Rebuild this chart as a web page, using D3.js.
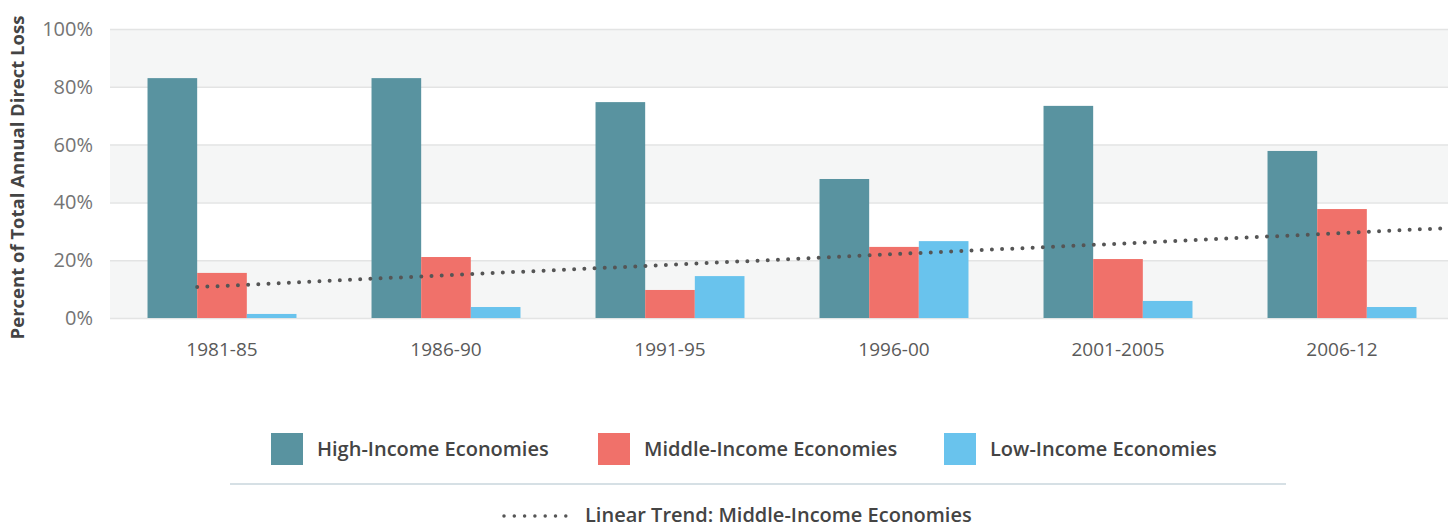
<!DOCTYPE html>
<html>
<head>
<meta charset="utf-8">
<script src="https://cdn.jsdelivr.net/npm/d3@7"></script>
<style>
  body { margin: 0; background: #fff; }
  text { font-family: "Open Sans", Lato, sans-serif; }
</style>
</head>
<body>
<div id="chart"></div>
<script>
// DATA
const periods = ["1981-85", "1986-90", "1991-95", "1996-00", "2001-2005", "2006-12"];
const highIncome = [83.0, 83.0, 74.7, 48.1, 73.4, 57.8];
const middleIncome = [15.6, 21.1, 9.7, 24.6, 20.4, 37.7];
const lowIncome = [1.4, 3.8, 14.5, 26.6, 5.9, 3.8];
// trend line at each period centre
const middleTrend = [11.1, 14.8, 18.4, 22.1, 25.7, 29.4];
const yTicks = [0, 20, 40, 60, 80, 100];
const seriesNames = ["High-Income Economies", "Middle-Income Economies", "Low-Income Economies"];
const trendName = "Linear Trend: Middle-Income Economies";

const colors = ["#5993a0", "#f0716a", "#69c3ed"];

const width = 1448;
const height = 527;
const plot = { left: 110, right: 1454, top: 29, bottom: 318 };

const svg = d3.select('#chart')
  .append('svg')
  .attr('width', width)
  .attr('height', height);

const x0 = d3.scaleBand()
  .domain(periods)
  .range([plot.left, plot.right])
  .paddingInner(0.335)
  .paddingOuter(0.1675);

const x1 = d3.scaleBand()
  .domain(seriesNames)
  .range([0, x0.bandwidth()]);

const y = d3.scaleLinear()
  .domain([0, 100])
  .range([plot.bottom, plot.top]);

// BANDS
const bands = svg.append('g');
yTicks.slice(0, -1).forEach((t, i) => {
  if (i % 2 === 0) {
    bands.append('rect')
      .attr('x', plot.left)
      .attr('y', y(t + 20))
      .attr('width', width - plot.left)
      .attr('height', y(t) - y(t + 20))
      .attr('fill', '#f5f6f6');
  }
});

// Y AXIS
const yAxis = svg.append('g')
  .attr('transform', 'translate(' + plot.left + ',0)')
  .call(d3.axisLeft(y).tickValues(yTicks).tickFormat(d => d + '%').tickSize(-(width - plot.left)).tickPadding(17));
yAxis.select('.domain').remove();
yAxis.selectAll('line').attr('stroke', '#e3e4e4').attr('stroke-width', 1.5);
yAxis.selectAll('text')
  .attr('fill', '#747474')
  .attr('font-size', 20)
  .attr('font-weight', 400)
  .style('font-family', '"Open Sans", sans-serif');

svg.append('text')
  .attr('transform', 'translate(24,' + ((plot.top + plot.bottom) / 2 + 4) + ') rotate(-90)')
  .attr('text-anchor', 'middle')
  .attr('fill', '#444')
  .attr('font-size', 18.5)
  .attr('font-weight', 700)
  .text('Percent of Total Annual Direct Loss');

// X AXIS
const xAxis = svg.append('g')
  .attr('transform', 'translate(0,' + plot.bottom + ')')
  .call(d3.axisBottom(x0).tickSize(0).tickPadding(25));
xAxis.select('.domain').remove();
xAxis.selectAll('text')
  .attr('fill', '#5a5a5a')
  .attr('font-size', 19)
  .attr('font-weight', 400)
  .style('font-family', '"Open Sans", sans-serif');

// BARS
const allSeries = [highIncome, middleIncome, lowIncome];
const groups = svg.append('g')
  .selectAll('g')
  .data(periods)
  .enter()
  .append('g')
  .attr('transform', d => 'translate(' + x0(d) + ',0)');

groups.selectAll('rect')
  .data((d, i) => seriesNames.map((s, j) => ({ series: s, value: allSeries[j][i], color: colors[j] })))
  .enter()
  .append('rect')
  .attr('x', d => x1(d.series))
  .attr('y', d => y(d.value))
  .attr('width', x1.bandwidth())
  .attr('height', d => y(0) - y(d.value))
  .attr('fill', d => d.color);

// TREND LINE
const idx = d3.scaleLinear().domain([0, periods.length - 1])
  .range([x0(periods[0]) + x0.bandwidth() / 2, x0(periods[periods.length - 1]) + x0.bandwidth() / 2]);
const trendAt = d3.scaleLinear().domain([0, periods.length - 1]).range([middleTrend[0], middleTrend[middleTrend.length - 1]]);
const startI = idx.invert(x0(periods[0]) + x1(seriesNames[1]));
const endI = idx.invert(width + 5);
const trendPts = [[startI, trendAt(startI)]]
  .concat(middleTrend.map((v, i) => [i, v]))
  .concat([[endI, trendAt(endI)]]);

svg.append('path')
  .datum(trendPts)
  .attr('fill', 'none')
  .attr('stroke', '#555')
  .attr('stroke-width', 4)
  .attr('stroke-linecap', 'round')
  .attr('stroke-dasharray', '0 10.2')
  .attr('d', d3.line()
    .x(d => idx(d[0]))
    .y(d => y(d[1]))
  );

// LEGEND
const legendX = [271, 598, 944];
const legend = svg.append('g');
seriesNames.forEach((name, i) => {
  legend.append('rect')
    .attr('x', legendX[i])
    .attr('y', 433)
    .attr('width', 32)
    .attr('height', 32)
    .attr('fill', colors[i]);
  legend.append('text')
    .attr('x', legendX[i] + 46)
    .attr('y', 456)
    .attr('fill', '#444')
    .attr('font-size', 20)
    .attr('font-weight', 600)
    .text(name);
});

legend.append('line')
  .attr('x1', 230).attr('x2', 1286)
  .attr('y1', 484).attr('y2', 484)
  .attr('stroke', '#c9d6dc')
  .attr('stroke-width', 1.5);

legend.append('line')
  .attr('x1', 504).attr('x2', 566)
  .attr('y1', 516).attr('y2', 516)
  .attr('stroke', '#555')
  .attr('stroke-width', 3.5)
  .attr('stroke-linecap', 'round')
  .attr('stroke-dasharray', '0 10.3');

legend.append('text')
  .attr('x', 585)
  .attr('y', 522)
  .attr('fill', '#444')
  .attr('font-size', 20)
  .attr('font-weight', 600)
  .text(trendName);
</script>
</body>
</html>
